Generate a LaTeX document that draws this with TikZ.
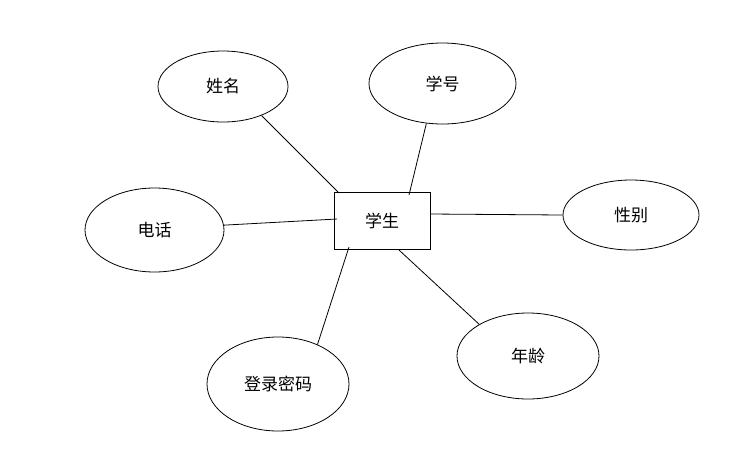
\documentclass[tikz,border=0pt]{standalone}
\usepackage{fontspec}
\newfontfamily\cjk{Noto Sans CJK SC}
\usetikzlibrary{shapes.geometric}
\begin{document}
\begin{tikzpicture}[x=1pt,y=-1pt,
  attr/.style={draw=black,ellipse,line width=0.8pt,inner sep=0pt,font=\cjk\fontsize{17}{20}\selectfont},
  ent/.style={draw=black,rectangle,line width=0.8pt,inner sep=0pt,minimum width=96pt,minimum height=57pt,font=\cjk\fontsize{17}{20}\selectfont},
  link/.style={draw=black,line width=0.8pt}]
\useasboundingbox (0,0) rectangle (740,467);
\node[ent] (stu) at (382,220.5) {学生};
\node[attr,minimum width=130pt,minimum height=71pt] (name) at (223,86.5) {姓名};
\node[attr,minimum width=147pt,minimum height=81pt] (sno) at (442.5,83.5) {学号};
\node[attr,minimum width=136pt,minimum height=70pt] (sex) at (631,215) {性别};
\node[attr,minimum width=139pt,minimum height=84pt] (tel) at (154.5,230) {电话};
\node[attr,minimum width=142pt,minimum height=94pt] (pwd) at (278,384) {登录密码};
\node[attr,minimum width=142pt,minimum height=86pt] (age) at (528,356) {年龄};
\coordinate (pName) at (339,193);
\coordinate (pSno) at (409,195);
\coordinate (pTel) at (337,219);
\coordinate (pSex) at (430,214);
\coordinate (pPwd) at (349,247);
\coordinate (pAge) at (399,250);
\draw[link] (name.-37.8) -- (pName);
\draw[link] (sno.-112.7) -- (pSno);
\draw[link] (tel.4) -- (pTel);
\draw[link] (pSex) -- (sex.west);
\draw[link] (pwd.45.7) -- (pPwd);
\draw[link] (age.147.4) -- (pAge);
\end{tikzpicture}
\end{document}
